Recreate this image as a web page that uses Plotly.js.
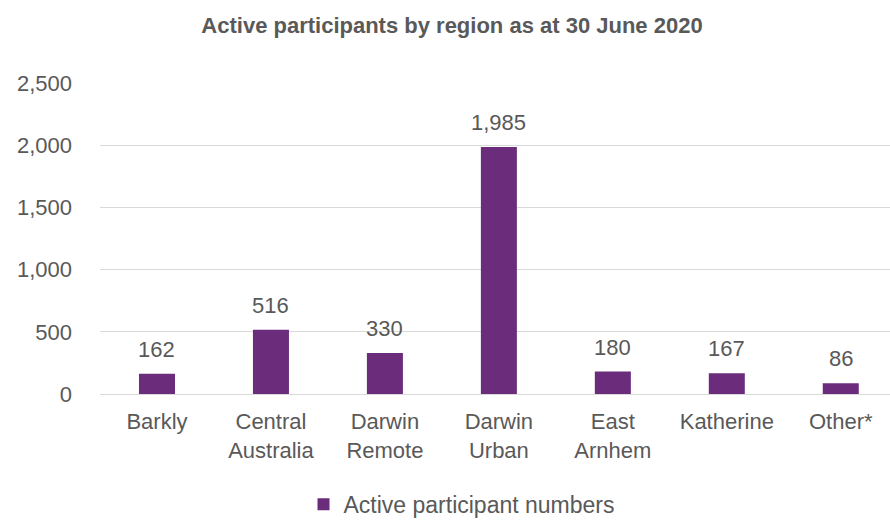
<!DOCTYPE html>
<html>
<head>
<meta charset="utf-8">
<script src="https://cdn.plot.ly/plotly-3.0.1.min.js"></script>
<style>html,body{margin:0;padding:0;overflow:hidden;background:#fff;}</style>
</head>
<body>
<div id="chart" style="width:890px;height:522px;"></div>
<script>
const categories = ["Barkly", "Central<br>Australia", "Darwin<br>Remote", "Darwin<br>Urban", "East<br>Arnhem", "Katherine", "Other*"];
const values = [162, 516, 330, 1985, 180, 167, 86];
const labels = ["162", "516", "330", "1,985", "180", "167", "86"];
const seriesName = "Active participant numbers";
const titleText = "Active participants by region as at 30 June 2020";

const font = "Liberation Sans, Arial, sans-serif";
const grey = "#595959";
const fs = 22;

const trace = {
  type: "bar",
  x: categories,
  y: values,
  name: seriesName,
  marker: {color: "#6B2C7B"},
  hoverinfo: "none"
};

const annotations = categories.map((c, i) => ({
  x: c, y: values[i], xref: "x", yref: "y",
  text: labels[i], showarrow: false,
  yanchor: "bottom", yshift: 10,
  font: {family: font, size: fs, color: grey}
}));

const layout = {
  width: 890, height: 522,
  margin: {l: 100, r: 0, t: 83, b: 128, autoexpand: false},
  paper_bgcolor: "#fff", plot_bgcolor: "#fff",
  title: {text: "<b>" + titleText + "</b>", x: 452/890, xanchor: "center", y: 0.952, yanchor: "middle",
          font: {family: font, size: 22, color: grey}},
  bargap: 0.684,
  showlegend: true,
  legend: {orientation: "h", x: (462 - 100) / 790, xanchor: "center", y: -0.355, yanchor: "middle", itemwidth: 30,
           font: {family: font, size: 23, color: grey}},
  xaxis: {type: "category", range: [-0.5, 6.432], showgrid: false, zeroline: false,
          showline: false, ticks: "", ticklabelstandoff: 12,
          tickfont: {family: font, size: fs, color: grey}, fixedrange: true},
  yaxis: {range: [0, 2500], dtick: 500, tickformat: ",", showgrid: true, gridcolor: "#D9D9D9", gridwidth: 1,
          zeroline: true, zerolinecolor: "#D9D9D9", zerolinewidth: 1, showline: false, ticks: "",
          ticklabelstandoff: 27,
          tickfont: {family: font, size: fs, color: grey}, fixedrange: true},
  annotations: annotations
};

Plotly.newPlot("chart", [trace], layout, {displayModeBar: false, staticPlot: true});
</script>
</body>
</html>
